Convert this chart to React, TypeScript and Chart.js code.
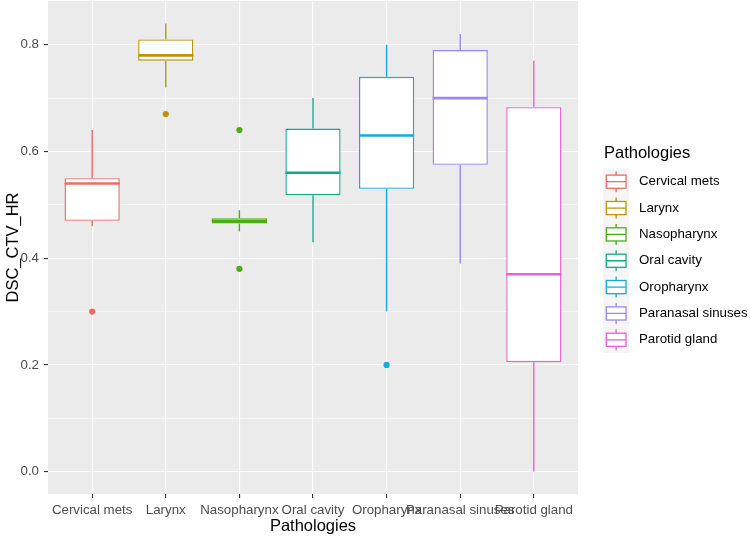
import React, { useEffect, useRef } from "react";
import { Chart, registerables } from "chart.js";

Chart.register(...registerables);

const FONT = "'Liberation Sans', Arial, Helvetica, sans-serif";

const categories = [
  "Cervical mets",
  "Larynx",
  "Nasopharynx",
  "Oral cavity",
  "Oropharynx",
  "Paranasal sinuses",
  "Parotid gland",
];
const whiskerLow = [0.46, 0.72, 0.45, 0.43, 0.3, 0.39, 0.0];
const q1 = [0.47, 0.77, 0.465, 0.518, 0.53, 0.575, 0.205];
const median = [0.54, 0.78, 0.47, 0.56, 0.63, 0.7, 0.37];
const q3 = [0.55, 0.81, 0.475, 0.643, 0.74, 0.79, 0.683];
const whiskerHigh = [0.64, 0.84, 0.49, 0.7, 0.8, 0.82, 0.77];
const outlierGroup = [0, 1, 2, 2, 4];
const outlierValue = [0.3, 0.67, 0.64, 0.38, 0.2];
const yTickValues = [0, 0.1, 0.2, 0.3, 0.4, 0.5, 0.6, 0.7, 0.8];
const colors = ["#EE6B62", "#BE940A", "#4EAC14", "#14A88C", "#14AADF", "#9D86F2", "#EE5ECC"];

const isMajor = (v: number) => Math.round(v * 10) % 2 === 0;

const bgPlugin = {
  id: "panelBg",
  beforeDraw(chart: any) {
    const { ctx, chartArea, width, height } = chart;
    ctx.save();
    ctx.fillStyle = "#FFFFFF";
    ctx.fillRect(0, 0, width, height);
    ctx.fillStyle = "#EBEBEB";
    ctx.fillRect(chartArea.left, chartArea.top, chartArea.right - chartArea.left, chartArea.bottom - chartArea.top);
    ctx.restore();
  },
};

const boxPartsPlugin = {
  id: "boxParts",
  beforeDatasetsDraw(chart: any) {
    const { ctx, scales } = chart;
    const xs = scales.x;
    const ys = scales.y;
    ctx.save();
    ctx.lineWidth = 1.4;
    categories.forEach((_, i) => {
      const x = xs.getPixelForValue(i);
      ctx.strokeStyle = colors[i];
      ctx.beginPath();
      ctx.moveTo(x, ys.getPixelForValue(whiskerHigh[i]));
      ctx.lineTo(x, ys.getPixelForValue(q3[i]));
      ctx.moveTo(x, ys.getPixelForValue(q1[i]));
      ctx.lineTo(x, ys.getPixelForValue(whiskerLow[i]));
      ctx.stroke();
    });
    ctx.restore();
  },
  afterDatasetsDraw(chart: any) {
    const { ctx, scales } = chart;
    const ys = scales.y;
    const meta = chart.getDatasetMeta(0);
    ctx.save();
    ctx.lineWidth = 2.6;
    categories.forEach((_, i) => {
      const el = meta.data[i] as any;
      const y = ys.getPixelForValue(median[i]);
      ctx.strokeStyle = colors[i];
      ctx.beginPath();
      ctx.moveTo(el.x - el.width / 2, y);
      ctx.lineTo(el.x + el.width / 2, y);
      ctx.stroke();
    });
    ctx.restore();
  },
};

const legendPlugin = {
  id: "ggLegend",
  afterDraw(chart: any) {
    const { ctx } = chart;
    ctx.save();
    ctx.textBaseline = "middle";
    ctx.textAlign = "left";
    ctx.fillStyle = "#000000";
    ctx.font = `16.5px ${FONT}`;
    ctx.fillText("Pathologies", 604, 153);
    const key = 26.3;
    const keyLeft = 603;
    categories.forEach((name, k) => {
      const cy = 181.7 + k * 26.35;
      const top = cy - key / 2;
      ctx.fillStyle = "#F5F5F5";
      ctx.fillRect(keyLeft, top, key, key);
      const cx = keyLeft + key / 2;
      const bx0 = keyLeft + key * 0.125;
      const bx1 = keyLeft + key * 0.875;
      const by0 = top + key * 0.25;
      const by1 = top + key * 0.75;
      ctx.strokeStyle = colors[k];
      ctx.lineWidth = 1.3;
      ctx.fillStyle = "#FFFFFF";
      ctx.fillRect(bx0, by0, bx1 - bx0, by1 - by0);
      ctx.strokeRect(bx0, by0, bx1 - bx0, by1 - by0);
      ctx.beginPath();
      ctx.moveTo(cx, top + key * 0.1);
      ctx.lineTo(cx, by0);
      ctx.moveTo(cx, by1);
      ctx.lineTo(cx, top + key * 0.9);
      ctx.moveTo(bx0, cy);
      ctx.lineTo(bx1, cy);
      ctx.stroke();
      ctx.fillStyle = "#000000";
      ctx.font = `13.3px ${FONT}`;
      ctx.fillText(name, 639, cy);
    });
    ctx.restore();
  },
};

export default function App() {
  const canvasRef = useRef<HTMLCanvasElement | null>(null);

  useEffect(() => {
    const canvas = canvasRef.current;
    if (!canvas) return;
    Chart.defaults.font.family = FONT;
    const chart = new Chart(canvas, {
      type: "bar",
      data: {
        datasets: [
          {
            type: "bar",
            label: "box",
            data: categories.map((_, i) => ({ x: i, y: [q1[i], q3[i]] })) as any,
            backgroundColor: "#FFFFFF",
            borderColor: colors,
            borderWidth: 1.4,
            borderSkipped: false,
            categoryPercentage: 0.75,
            barPercentage: 1,
            order: 2,
          } as any,
          {
            type: "scatter",
            label: "outliers",
            data: outlierGroup.map((g, k) => ({ x: g, y: outlierValue[k] })),
            pointBackgroundColor: outlierGroup.map((g) => colors[g]),
            pointBorderColor: outlierGroup.map((g) => colors[g]),
            pointBorderWidth: 0,
            pointRadius: 3.1,
            order: 1,
          } as any,
        ],
      },
      options: {
        responsive: false,
        maintainAspectRatio: false,
        animation: false,
        layout: { autoPadding: false, padding: { left: 0, top: 1, right: 172, bottom: 0 } },
        plugins: {
          legend: { display: false },
          tooltip: { enabled: false },
        },
        scales: {
          x: {
            type: "linear",
            offset: false,
            min: -0.6,
            max: 6.6,
            afterBuildTicks: (s: any) => {
              s.ticks = categories.map((_, i) => ({ value: i }));
            },
            afterFit: (s: any) => {
              s.height = 44;
              s.paddingLeft = 0;
              s.paddingRight = 0;
            },
            border: { display: false },
            grid: {
              offset: false,
              color: "#FFFFFF",
              lineWidth: 1.1,
              tickColor: "#333333",
              tickLength: 4,
              tickWidth: 1.1,
            },
            ticks: {
              autoSkip: false,
              maxRotation: 0,
              minRotation: 0,
              padding: 4,
              color: "#4D4D4D",
              font: { size: 13.3, family: FONT },
              callback: (v: any) => categories[Math.round(Number(v))] ?? "",
            },
            title: {
              display: true,
              text: "Pathologies",
              color: "#000000",
              font: { size: 16.5, family: FONT },
              padding: { top: 0, bottom: 2 },
            },
          },
          y: {
            type: "linear",
            min: -0.042,
            max: 0.882,
            afterBuildTicks: (s: any) => {
              s.ticks = yTickValues.map((v) => ({ value: v }));
            },
            afterFit: (s: any) => {
              s.width = 48;
              s.paddingTop = 0;
              s.paddingBottom = 0;
            },
            border: { display: false },
            grid: {
              color: "#FFFFFF",
              lineWidth: (c: any) => (c.tick && isMajor(c.tick.value) ? 1.1 : 0.55),
              tickColor: (c: any) => (c.tick && isMajor(c.tick.value) ? "#333333" : "rgba(0,0,0,0)"),
              tickLength: 4,
              tickWidth: 1.1,
            },
            ticks: {
              padding: 5,
              color: "#4D4D4D",
              font: { size: 13.3, family: FONT },
              callback: (v: any) => (isMajor(Number(v)) ? Number(v).toFixed(1) : ""),
            },
            title: {
              display: true,
              text: "DSC_CTV_HR",
              color: "#000000",
              font: { size: 16.5, family: FONT },
              padding: { top: 3.5, bottom: 0 },
            },
          },
        },
      } as any,
      plugins: [bgPlugin, boxPartsPlugin, legendPlugin],
    });
    return () => chart.destroy();
  }, []);

  return (
    <div style={{ position: "fixed", left: 0, top: 0, width: 750, height: 538, background: "#FFFFFF" }}>
      <canvas ref={canvasRef} width={750} height={538} style={{ display: "block", width: 750, height: 538 }} />
    </div>
  );
}
